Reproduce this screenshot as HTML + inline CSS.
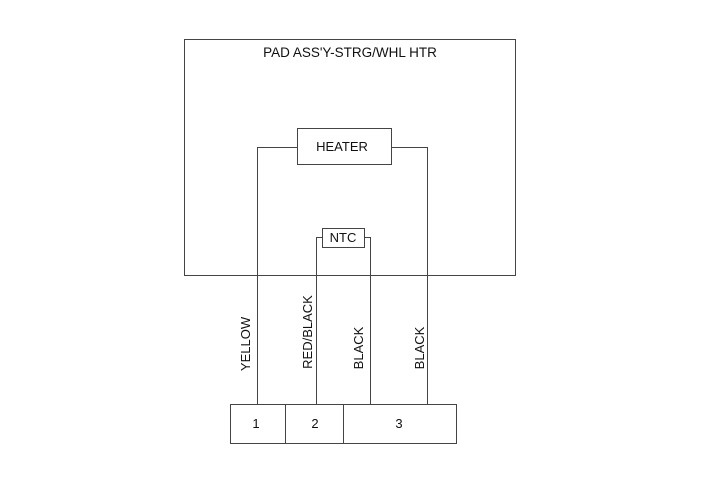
<!DOCTYPE html>
<html><head><style>body{margin:0;background:#fff}</style></head><body>
<svg width="701" height="483" xmlns="http://www.w3.org/2000/svg" font-family="Liberation Sans, sans-serif" font-size="13" fill="none" stroke="#444" stroke-width="1">
<rect x="184.5" y="39.5" width="331" height="236"/>
<rect x="297.5" y="128.5" width="94" height="36"/>
<rect x="322.5" y="228.5" width="42" height="19"/>
<path d="M297 147.5H257.5V404M391 147.5H427.5V404M322 237.5H316.5V404M364 237.5H370.5V404"/>
<rect x="230.5" y="404.5" width="226" height="39"/>
<path d="M285.5 404V443M343.5 404V443"/>
<g fill="#111" stroke="none" text-anchor="middle">
<text x="350" y="57" font-size="13.5">PAD ASS'Y-STRG/WHL HTR</text>
<text x="342" y="151">HEATER</text>
<text x="343" y="242">NTC</text>
<text x="256" y="428">1</text>
<text x="315" y="428">2</text>
<text x="399" y="428">3</text>
<text transform="translate(250,344) rotate(-90)">YELLOW</text>
<text transform="translate(312,332) rotate(-90)">RED/BLACK</text>
<text transform="translate(363,348) rotate(-90)">BLACK</text>
<text transform="translate(424,348) rotate(-90)">BLACK</text>
</g>
</svg>
</body></html>
